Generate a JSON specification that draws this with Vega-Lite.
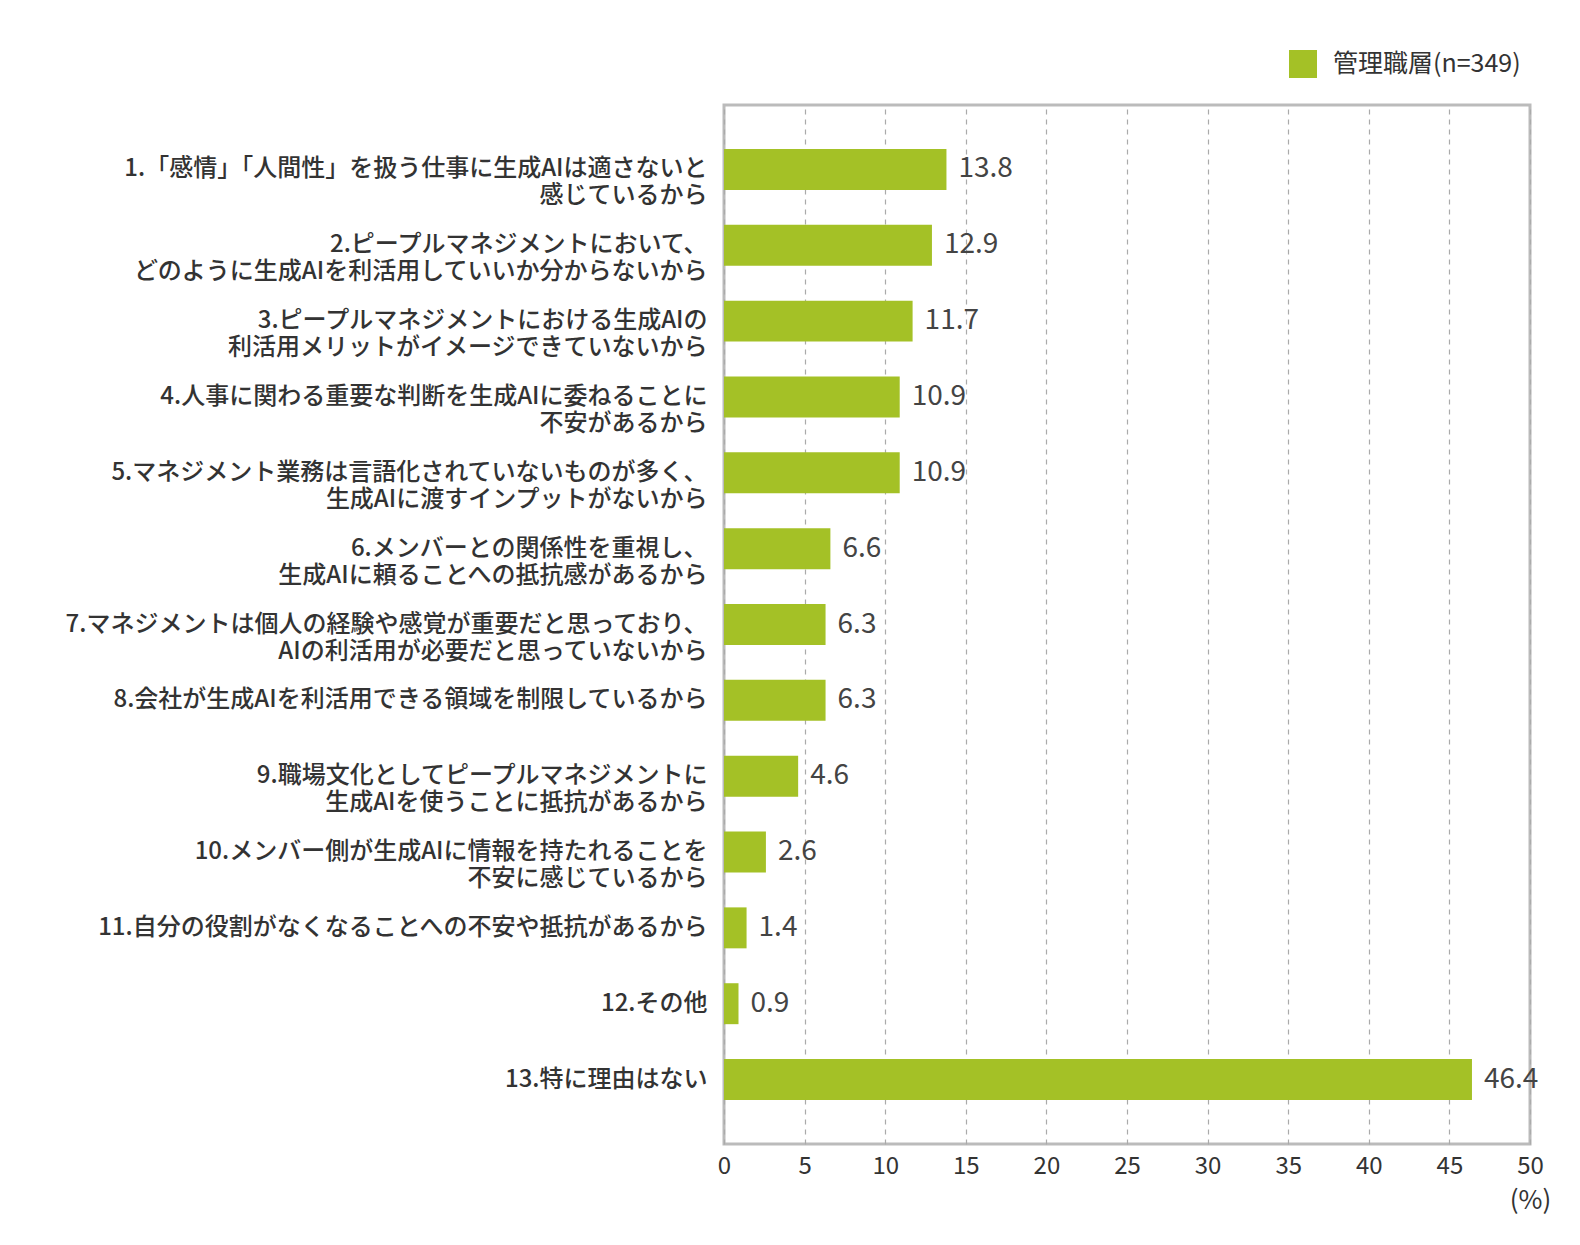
{
  "$schema": "https://vega.github.io/schema/vega-lite/v6.json",
  "width": 806,
  "height": 1039,
  "autosize": {"type": "none"},
  "padding": {"left": 724, "top": 105, "right": 50, "bottom": 101},
  "background": "white",
  "data": {
    "values": [
      {"label": "1.「感情」「人間性」を扱う仕事に生成AIは適さないと\n感じているから", "value": 13.8, "series": "管理職層(n=349)"},
      {"label": "2.ピープルマネジメントにおいて、\u2002\nどのように生成AIを利活用していいか分からないから\u2002", "value": 12.9, "series": "管理職層(n=349)"},
      {"label": "3.ピープルマネジメントにおける生成AIの\n利活用メリットがイメージできていないから", "value": 11.7, "series": "管理職層(n=349)"},
      {"label": "4.人事に関わる重要な判断を生成AIに委ねることに\n不安があるから", "value": 10.9, "series": "管理職層(n=349)"},
      {"label": "5.マネジメント業務は言語化されていないものが多く、\n生成AIに渡すインプットがないから", "value": 10.9, "series": "管理職層(n=349)"},
      {"label": "6.メンバーとの関係性を重視し、\n生成AIに頼ることへの抵抗感があるから", "value": 6.6, "series": "管理職層(n=349)"},
      {"label": "7.マネジメントは個人の経験や感覚が重要だと思っており、\nAIの利活用が必要だと思っていないから", "value": 6.3, "series": "管理職層(n=349)"},
      {"label": "8.会社が生成AIを利活用できる領域を制限しているから", "value": 6.3, "series": "管理職層(n=349)"},
      {"label": "9.職場文化としてピープルマネジメントに\n生成AIを使うことに抵抗があるから", "value": 4.6, "series": "管理職層(n=349)"},
      {"label": "10.メンバー側が生成AIに情報を持たれることを\n不安に感じているから", "value": 2.6, "series": "管理職層(n=349)"},
      {"label": "11.自分の役割がなくなることへの不安や抵抗があるから", "value": 1.4, "series": "管理職層(n=349)"},
      {"label": "12.その他", "value": 0.9, "series": "管理職層(n=349)"},
      {"label": "13.特に理由はない", "value": 46.4, "series": "管理職層(n=349)"}
    ]
  },
  "encoding": {
    "y": {
      "field": "label",
      "type": "nominal",
      "sort": null,
      "scale": {"paddingInner": 0.46, "paddingOuter": 0.58},
      "axis": {
        "title": null,
        "domain": false,
        "ticks": false,
        "labelExpr": "split(datum.label, '\\n')",
        "labelFont": "Noto Sans CJK JP",
        "labelFontSize": 24,
        "labelFontWeight": 500,
        "labelLineHeight": 27,
        "labelColor": "#333333",
        "labelPadding": 17,
        "labelLimit": 0,
        "labelAlign": "right",
        "labelBaseline": "middle",
        "labelOverlap": false
      }
    },
    "x": {
      "field": "value",
      "type": "quantitative",
      "scale": {"domain": [0, 50], "nice": false},
      "axis": {
        "values": [0, 5, 10, 15, 20, 25, 30, 35, 40, 45, 50],
        "title": "(%)",
        "titleFont": "Noto Sans CJK JP",
        "titleFontSize": 26,
        "titleFontWeight": "normal",
        "titleColor": "#333333",
        "titleX": 806,
        "titleY": 56,
        "titleAlign": "center",
        "titleBaseline": "middle",
        "domain": false,
        "ticks": false,
        "labelFont": "Noto Sans CJK JP",
        "labelFontSize": 24,
        "labelColor": "#333333",
        "labelPadding": 10,
        "labelFlush": false,
        "grid": true,
        "gridColor": "#aaaaaa",
        "gridDash": [5, 5],
        "gridWidth": 1.2
      }
    }
  },
  "layer": [
    {
      "mark": {"type": "bar"},
      "encoding": {
        "color": {
          "field": "series",
          "type": "nominal",
          "scale": {"range": ["#a4c126"]},
          "legend": {
            "title": null,
            "orient": "none",
            "legendX": 565,
            "legendY": -55,
            "symbolType": "square",
            "symbolSize": 784,
            "symbolStrokeWidth": 0,
            "symbolOpacity": 1,
            "labelFont": "Noto Sans CJK JP",
            "labelFontSize": 25,
            "labelColor": "#333333",
            "labelOffset": 16,
            "labelLimit": 0
          }
        }
      }
    },
    {
      "mark": {
        "type": "text",
        "align": "left",
        "baseline": "middle",
        "dx": 12,
        "font": "Noto Sans CJK JP",
        "fontSize": 28,
        "color": "#444444"
      },
      "encoding": {
        "text": {"field": "value", "type": "quantitative", "format": ".1f"}
      }
    }
  ],
  "config": {
    "view": {"stroke": "#bbbbbb", "strokeWidth": 3}
  }
}
